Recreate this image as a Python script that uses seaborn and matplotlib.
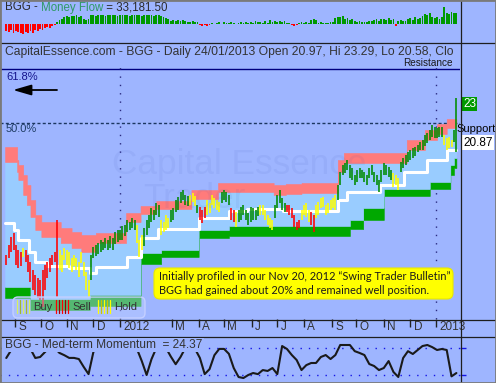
import numpy as np
import pandas as pd
import matplotlib
matplotlib.use("Agg")
import matplotlib.pyplot as plt
import seaborn as sns
from matplotlib.patches import FancyBboxPatch, Rectangle
from matplotlib.lines import Line2D
from matplotlib.transforms import IdentityTransform, blended_transform_factory

# ------------------------------------------------------------------ data
first_day = "2011-08-22"
last_day = "2013-01-24"

# resistance band (step levels)
res_dates = ["2011-08-22", "2011-09-03", "2011-09-06", "2011-09-11", "2011-09-15",
             "2011-09-20", "2011-09-25", "2011-10-02", "2011-10-25", "2011-11-05",
             "2011-11-17", "2011-12-04", "2012-01-08", "2012-01-25", "2012-02-11",
             "2012-03-23", "2012-04-24", "2012-06-27", "2012-07-11", "2012-07-28",
             "2012-09-08", "2012-09-15", "2012-11-28", "2012-12-19", "2013-01-02",
             "2013-01-13"]
res_top = [20.85, 20.2, 19.95, 19.45, 18.95, 18.2, 17.45, 17.1, 16.8, 16.6,
           16.45, 16.55, 17.55, 17.9, 18.15, 18.7, 19.05, 18.95, 19.0, 19.05,
           20.2, 20.55, 21.2, 21.7, 22.0, 22.25]
res_bot = [20.1, 19.6, 19.2, 18.45, 17.95, 17.35, 16.7, 16.35, 16.05, 15.8,
           15.6, 16.05, 17.1, 17.5, 17.75, 18.25, 18.6, 18.45, 18.5, 18.55,
           19.6, 20.05, 20.7, 21.2, 21.5, 21.8]

# support band (step levels)
sup_dates = ["2011-08-22", "2011-09-20", "2011-11-28", "2012-01-25", "2012-02-17",
             "2012-03-31", "2012-05-05", "2012-09-24", "2012-10-09", "2012-11-01",
             "2012-12-25", "2013-01-17", "2013-01-22"]
sup_top = [13.85, 13.25, 13.45, 15.55, 15.7, 16.7, 16.9, 17.2, 17.8, 18.75,
           19.1, 19.95, 20.3]
sup_bot = [13.3, 12.7, 12.9, 15.0, 15.35, 16.3, 16.4, 16.75, 17.2, 18.4,
           18.75, 19.45, 19.8]

# middle (white) line
mid_dates = ["2011-08-22", "2011-08-31", "2011-09-06", "2011-09-18", "2011-09-26",
             "2011-10-08", "2011-11-03", "2011-11-28", "2011-12-05", "2012-01-10",
             "2012-01-25", "2012-02-14", "2012-03-31", "2012-05-05", "2012-05-27",
             "2012-07-09", "2012-09-08", "2012-09-20", "2012-10-29", "2012-11-25",
             "2012-12-21", "2013-01-13"]
mid_level = [17.05, 16.7, 16.2, 15.6, 15.1, 14.9, 14.8, 14.55, 14.85, 15.35,
             16.3, 16.75, 17.3, 17.65, 17.75, 17.65, 18.2, 18.6, 18.95, 19.6,
             20.2, 20.7]

# price bars, one every second session ending on the last session
bar_high = [15.45, 15.95, 16.35, 16.55, 15.95, 15.7, 15.6, 15.8, 15.7, 15.45,
            15.1, 14.7, 14.45, 14.3, 14.2, 14.7, 14.95, 15.1, 15.3, 15.45,
            15.6, 17.2, 15.7, 15.45, 15.8, 15.7, 15.6, 15.3, 15.45, 15.3,
            15.1, 15.6, 15.1, 14.6, 14.2, 15.45, 15.85, 15.95, 16.05, 16.2,
            16.1, 16.3, 16.2, 16.4, 16.3, 16.6, 16.7, 16.7, 16.9, 16.95,
            17.2, 17.1, 17.3, 17.2, 16.95, 16.2, 16.45, 16.8, 17.2, 17.45,
            17.8, 17.7, 18.05, 17.95, 17.2, 17.1, 17.45, 17.3, 17.7, 17.8,
            18.2, 18.35, 18.6, 18.7, 18.45, 18.4, 18.45, 18.55, 18.4, 17.95,
            17.85, 17.7, 17.85, 18.2, 18.05, 18.45, 18.3, 18.2, 18.1, 18.6,
            18.7, 18.6, 18.45, 17.8, 17.7, 17.6, 17.7, 17.85, 17.95, 17.7,
            17.55, 17.85, 17.8, 17.7, 17.85, 17.95, 17.95, 17.7, 17.45, 17.3,
            17.2, 17.95, 18.45, 18.7, 18.3, 18.05, 17.95, 17.95, 17.8, 17.45,
            17.1, 17.2, 17.7, 17.95, 18.05, 17.7, 17.6, 17.45, 17.95, 18.1,
            18.3, 18.35, 17.95, 18.05, 18.2, 18.3, 18.45, 18.95, 19.6, 19.95,
            20.05, 20.2, 19.95, 19.8, 19.45, 19.7, 19.8, 19.7, 19.6, 19.45,
            19.8, 19.95, 19.6, 19.45, 19.2, 19.7, 20.05, 19.95, 19.85, 19.7,
            19.55, 19.45, 19.3, 20.1, 20.3, 20.45, 20.6, 20.7, 20.8, 20.85,
            20.95, 21.1, 21.2, 21.45, 21.55, 21.7, 21.95, 21.85, 21.8, 21.85,
            21.85, 21.45, 21.3, 21.35, 21.2, 21.7, 23.29]
bar_low = [14.95, 15.3, 15.6, 15.7, 14.95, 14.8, 14.9, 15.35, 15.1, 14.6,
           14.1, 13.7, 13.45, 13.3, 13.2, 12.85, 13.7, 14.3, 14.6, 14.95,
           15.1, 13.35, 14.7, 14.6, 15.2, 14.95, 14.8, 14.6, 14.9, 14.7,
           14.35, 15.05, 14.4, 13.7, 13.35, 14.2, 15.3, 15.4, 15.5, 15.6,
           15.7, 15.8, 15.7, 15.8, 15.7, 16.0, 16.1, 16.2, 16.2, 16.4,
           16.6, 16.7, 16.8, 16.7, 16.05, 15.35, 15.7, 15.9, 16.45, 16.8,
           17.1, 17.2, 17.45, 17.35, 16.45, 16.6, 16.7, 16.8, 17.1, 17.2,
           17.6, 17.7, 18.05, 18.2, 17.95, 17.9, 17.95, 18.1, 17.9, 17.55,
           17.2, 17.05, 17.3, 17.45, 17.55, 17.95, 17.8, 17.7, 17.6, 18.05,
           18.2, 18.1, 17.95, 17.2, 17.1, 16.85, 17.1, 17.2, 17.45, 17.2,
           16.95, 17.1, 17.2, 17.2, 17.4, 17.45, 17.45, 17.2, 16.95, 16.8,
           16.7, 17.3, 17.8, 18.05, 17.7, 17.6, 17.6, 17.45, 17.3, 16.85,
           16.7, 16.8, 17.2, 17.45, 17.35, 17.1, 16.95, 16.6, 17.3, 17.45,
           17.8, 17.85, 17.45, 17.55, 17.7, 17.8, 17.7, 18.2, 18.95, 19.45,
           19.55, 19.7, 19.3, 19.2, 18.95, 19.1, 19.3, 19.3, 19.1, 18.95,
           19.3, 19.45, 19.1, 18.95, 18.6, 19.1, 19.45, 19.45, 19.35, 19.2,
           18.85, 18.95, 18.7, 19.6, 19.8, 19.95, 20.1, 20.2, 20.3, 20.4,
           20.6, 20.7, 20.7, 20.9, 21.05, 21.2, 21.35, 21.3, 21.3, 21.35,
           21.35, 20.95, 20.7, 20.8, 20.85, 21.1, 20.58]
# signal per bar: g = buy, r = sell, y = hold
bar_signal = ("rrrrrrryrr" "rrrrrrrrrr" "rryyyyyyyy" "yyyyyggggg" "gggggggggg"
              "ggggyyyggg" "ggggyyyygg" "ggggggyyyg" "rrryyyyyyg" "gggrrygggg"
              "gggggyyyyy" "ygggggrrrr" "rryyyyrryy" "yyyyyyyggg" "gggggggggg"
              "gggggggggg" "yyyggggggg" "gggggggggg" "gyyyygg")

# money flow (thousands), same sessions as the price bars
money_flow = [-20, -24, -18, -26, -22, -25, -28, -30, -24, -27,
              -22, -26, -18, -20, -15, -18, -12, -10, -11, -6,
              -4, 6, 12, 15, 22, 24, 20, 25, 24, 26,
              22, 25, 14, 12, 15, 26, 27, 25, 26, 27,
              26, 25, 27, 26, 26, 27, 25, 26, 27, 26,
              26, 25, 27, 26, 27, 26, 25, 26, 27, 26,
              26, 25, 26, 27, 24, 22, 18, 16, 10, 12,
              9, 11, 10, 12, 9, 7, 6, 8, 5, 6,
              -4, -6, -3, -7, -2, 3, 0, 2, 5, 1,
              6, 3, 2, 7, 4, 1, 3, 5, 2, 6,
              4, 7, 3, 8, 5, 6, 3, 10, 4, 12,
              6, 8, 7, 9, 6, 8, 3, 2, -4, -5,
              -3, 3, 6, 2, 7, 4, 12, 14, 11, 3,
              5, 2, 4, 3, 5, 6, 18, 22, 20, 24,
              15, 18, 12, 14, 10, 6, 8, 5, 7, 6,
              8, 10, 12, 14, 9, 14, 16, 12, 18, 13,
              15, -5, 9, 11, 8, 10, 14, 18, 12, 20,
              16, 19, 24, 30, 26, 32, 22, 18, 20, 16,
              22, 50, 34, 30, 36, 32, 33.1815]

# medium-term momentum, one value every fourth session ending on the last one
momentum = [57.8, 75, 85, 88, 86, 78, 57.8, 60, 71, 82,
            80, 69, 64, 58, 58, 55.5, 38, 22, 71, 85,
            88, 87, 85, 86, 88, 87, 84, 78, 51, 20,
            55, 80, 85, 80, 61, 44, 60, 80, 85, 78,
            58, 22, 33, 64, 78, 78, 67, 35.5, 15.5, 13.3,
            20, 24.4, 22, 31, 29, 35.5, 22, 84.4, 77.8, 64.4,
            53.3, 31, 42, 46.7, 46.7, 60, 64.4, 55.5, 64.4, 86.7,
            86.7, 86.7, 73, 69, 64.4, 44.4, 40, 31, 35.5, 51,
            26.7, 15.6, 57.8, 73, 66.7, 75.6, 84.4, 86.7, 82, 75.6,
            77.8, 75.6, 17, 24.37]

month_starts = ["2011-09-01", "2011-10-01", "2011-11-01", "2011-12-01", "2012-01-01",
                "2012-03-01", "2012-04-01", "2012-05-01", "2012-06-01", "2012-07-01",
                "2012-08-01", "2012-09-01", "2012-10-01", "2012-11-01", "2012-12-01",
                "2013-01-01"]
month_labels = ["S", "O", "N", "D", "2012", "M", "A", "M", "J", "J", "A", "S",
                "O", "N", "D", "2013"]

fib_618 = 24.75
fib_500 = 22.05
last_price = 23
support_price = 20.87
momentum_levels = [20, 80]

header = "CapitalEssence.com - BGG - Daily 24/01/2013 Open 20.97, Hi 23.29, Lo 20.58, Clo"
note_lines = ["Initially profiled in our Nov 20, 2012 \u201cSwing Trader Bulletin\u201d",
              "BGG had gained about 20% and remained well position."]

# ------------------------------------------------------------------ style
sns.set_theme(style="white")
plt.rcParams["font.family"] = ["Liberation Sans", "DejaVu Sans"]

BG = "#9EB5FF"
W, H = 496, 383
fig = plt.figure(figsize=(W / 100, H / 100), dpi=100)
fig.patch.set_facecolor(BG)

days = pd.bdate_range(first_day, last_day)
idx = np.arange(len(days))
bar_x = idx[(len(idx) - 1) % 2::2]
mo_x = idx[(len(idx) - 1) % 4::4]
XL = (-4.1736, 375.99)


def panel(top, bottom, ylim):
    ax = fig.add_axes([0, 1 - bottom / H, 460 / W, (bottom - top) / H])
    ax.set_xlim(*XL)
    ax.set_ylim(*ylim)
    ax.axis("off")
    return ax


def stepped(dates, vals):
    s = pd.Series(vals, index=pd.to_datetime(dates))
    return s.reindex(days, method="ffill").to_numpy()


ax_mf = panel(2, 42, (-54, 66))
ax_pr = panel(42, 319, (12.25, 26.1))
ax_dt = panel(319, 336, (0, 1))
ax_mo = panel(336, 381, (6.67, 106.7))

# ---------------------------------------------------------- money flow
mf_cols = ["#009900" if v >= 0 else "#FF0000" for v in money_flow]
ax_mf.bar(bar_x, money_flow, width=1.5, color=mf_cols, linewidth=0)

# ---------------------------------------------------------- price panel
rt, rb = stepped(res_dates, res_top), stepped(res_dates, res_bot)
st, sb = stepped(sup_dates, sup_top), stepped(sup_dates, sup_bot)
md = stepped(mid_dates, mid_level)

ax_pr.axhline(fib_618, color="#000080", lw=1.0, zorder=1)
ax_pr.axhline(fib_500, color="#1C3660", lw=1.0, ls=(0, (2.2, 1.6)), zorder=1)
tick_x = days.searchsorted(pd.to_datetime(month_starts))
year_x = [x for x, lab in zip(tick_x, month_labels) if len(lab) == 4]
ax_pr.vlines(year_x, 12.25, 25.0, colors="#2A2A80", linewidth=1.0,
             linestyles=(0, (1, 5)), zorder=1)

for lo, hi, c in ((sb, st, "#00A800"), (st, rb, "#99CCFF"), (rb, rt, "#FF7B7B")):
    ax_pr.fill_between(idx, lo, hi, step="post", facecolor=c, edgecolor=c,
                       linewidth=0.4, zorder=2)

sns.lineplot(x=idx, y=md, ax=ax_pr, color="white", linewidth=2.2,
             drawstyle="steps-post", estimator=None, zorder=3)

sig_col = {"g": "#008C00", "y": "#FFFF00", "r": "#FF0000"}
ax_pr.vlines(bar_x, bar_low, bar_high, colors=[sig_col[c] for c in bar_signal],
             linewidth=1.15, zorder=4, capstyle="butt")

tr = blended_transform_factory(ax_pr.transAxes, ax_pr.transData)
ax_pr.annotate("61.8%", xy=(0, fib_618), xycoords=tr, xytext=(6, -8),
               textcoords="offset pixels", ha="left", va="center",
               color="#14148C", fontsize=8)
ax_pr.annotate("50.0%", xy=(0, fib_500), xycoords=tr, xytext=(6, -6.5),
               textcoords="offset pixels", ha="left", va="center",
               color="#1E3C64", fontsize=8)
ax_pr.annotate("", xy=(13, H - 90), xycoords="figure pixels",
               xytext=(57, H - 90), textcoords="figure pixels",
               arrowprops=dict(arrowstyle="-|>,head_length=1.1,head_width=0.32",
                               mutation_scale=10, color="black", lw=1.3,
                               shrinkA=0, shrinkB=0))

ax_pr.annotate(f"{last_price}", xy=(1, last_price), xycoords=tr, xytext=(3, 0),
               textcoords="offset pixels", ha="left", va="center", color="white",
               fontsize=8.5, annotation_clip=False,
               bbox=dict(boxstyle="square,pad=0.12", fc="#009900", ec="none"))
ax_pr.annotate(f"{support_price:.2f}", xy=(1, support_price), xycoords=tr,
               xytext=(3, 4), textcoords="offset pixels", ha="left", va="center",
               color="black", fontsize=8.5, annotation_clip=False,
               bbox=dict(boxstyle="square,pad=0.12", fc="white", ec="none"))
ax_pr.annotate("Support", xy=(1, support_price), xycoords=tr, xytext=(-4, 17.5),
               textcoords="offset pixels", ha="left", va="center", color="black",
               fontsize=8, annotation_clip=False, zorder=10)

# ---------------------------------------------------------- date strip
ax_dt.vlines(tick_x, 0.53, 1.0, colors="#222222", linewidth=1.0)
for x, lab in zip(tick_x, month_labels):
    ax_dt.text(x + 2.8, 0.5, lab, ha="left", va="center", fontsize=8.5,
               color="#333333")

# ---------------------------------------------------------- momentum
for lv in momentum_levels:
    ax_mo.axhline(lv, color="#1414E6", lw=1.0, ls=(0, (1, 5)), zorder=1)
ax_mo.hlines(momentum_levels, 1.0, 1.013, transform=ax_mo.get_yaxis_transform(),
             colors="#1414E6", lw=1.0, clip_on=False)
sns.lineplot(x=mo_x, y=momentum, ax=ax_mo, color="#1A1A1A", linewidth=1.5,
             estimator=None, zorder=2)

# ---------------------------------------------------------- texts & frame
def P(x, y):
    return x / W, 1 - y / H


t_mo = fig.text(*P(5, 345), f"BGG - Med-term Momentum  = {momentum[-1]:.2f}",
                ha="left", va="center", fontsize=8.5, color="#333333", zorder=5,
                bbox=dict(boxstyle="square,pad=0.12", fc=BG, ec="none"))
t_a = fig.text(*P(5, 7.5), "BGG - ", ha="left", va="center", fontsize=8.5,
               color="#2B2B2B", zorder=5)
t_b = ax_mf.annotate("Money Flow", xy=(1, 0), xycoords=t_a, ha="left",
                     va="bottom", fontsize=8.5, color="#2F9966")
t_c = ax_mf.annotate(f" = {money_flow[-1] * 1000:,.2f}", xy=(1, 0), xycoords=t_b,
                     ha="left", va="bottom", fontsize=8.5, color="#2B2B2B")
t_h = fig.text(*P(5, 52), header, ha="left", va="center", fontsize=8.3,
               color="#333333", zorder=5)
fig.text(*P(453, 63), "Resistance", ha="right", va="center", fontsize=7.2,
         color="#1A1A1A", zorder=5)

wm1 = fig.text(*P(112, 174), "Capital Essence", ha="left", va="baseline",
               fontsize=25, color="#3C50B4", alpha=0.08, zorder=4)
wm2 = fig.text(*P(143, 208), "Trader", ha="left", va="baseline",
               fontsize=25, color="#3C50B4", alpha=0.08, zorder=4)

fig.add_artist(FancyBboxPatch((154, H - 299), 299, 31,
                              boxstyle="round,pad=0,rounding_size=6",
                              transform=IdentityTransform(), fc="#FFFF00",
                              ec="#E8E800", lw=0.8, zorder=5))
n1 = fig.text(*P(159, 277), note_lines[0], ha="left", va="center", fontsize=8,
              family=["Lato", "DejaVu Sans"], color="#1A1A1A", zorder=6)
n2 = fig.text(*P(159, 291), note_lines[1], ha="left", va="center", fontsize=8,
              family=["Lato", "DejaVu Sans"], color="#1A1A1A", zorder=6)

# signal legend
fig.add_artist(FancyBboxPatch((13, H - 318), 132, 21,
                              boxstyle="round,pad=0,rounding_size=5",
                              transform=IdentityTransform(),
                              fc=(0.74, 0.80, 1.0, 0.45), ec="#C4D0FF", lw=1,
                              zorder=5))
legend_items = [("Buy", 17, ["#D8F060", "#A0B830"]),
                ("Sell", 56, ["#FF0000", "#A00000"]),
                ("Hold", 98, ["#FFFF00", "#C8C800"])]
for lab, x0, cols in legend_items:
    for j in range(5):
        fig.add_artist(Line2D([x0 + 3 * j] * 2, [H - 313, H - 300],
                              transform=IdentityTransform(), color=cols[j % 2],
                              lw=0.9, zorder=6))
    fig.text(*P(x0 + 16, 307), lab, ha="left", va="center", fontsize=8,
             color="#333333", zorder=6)

for y in (42, 319, 336):
    fig.add_artist(Line2D([0, 1], [1 - (y + 0.5) / H] * 2, transform=fig.transFigure,
                          color="#1E1E1E", lw=0.9, zorder=3))
fig.add_artist(Line2D([460.5 / W] * 2, [0, 1], transform=fig.transFigure,
                      color="#1E1E1E", lw=0.9, zorder=3))
fig.add_artist(Rectangle((0, 0), 1, 1, transform=fig.transFigure, fill=False,
                         ec="#7A7A7A", lw=2, zorder=10))

# ---------------------------------------------------------- fit text widths
fig.canvas.draw()
rend = fig.canvas.get_renderer()


def fit(texts, width):
    bbs = [t.get_window_extent(rend) for t in texts]
    w = max(b.x1 for b in bbs) - min(b.x0 for b in bbs)
    for t in texts:
        t.set_fontsize(t.get_fontsize() * width / w)


fit([t_h], 449)
fit([t_mo], 198)
fit([t_a, t_b, t_c], 163)
fit([n1], 293)
n2.set_fontsize(n1.get_fontsize())
fit([wm1], 254)
wm2.set_fontsize(wm1.get_fontsize())

fig.savefig("out.png", dpi=100, facecolor=BG)
